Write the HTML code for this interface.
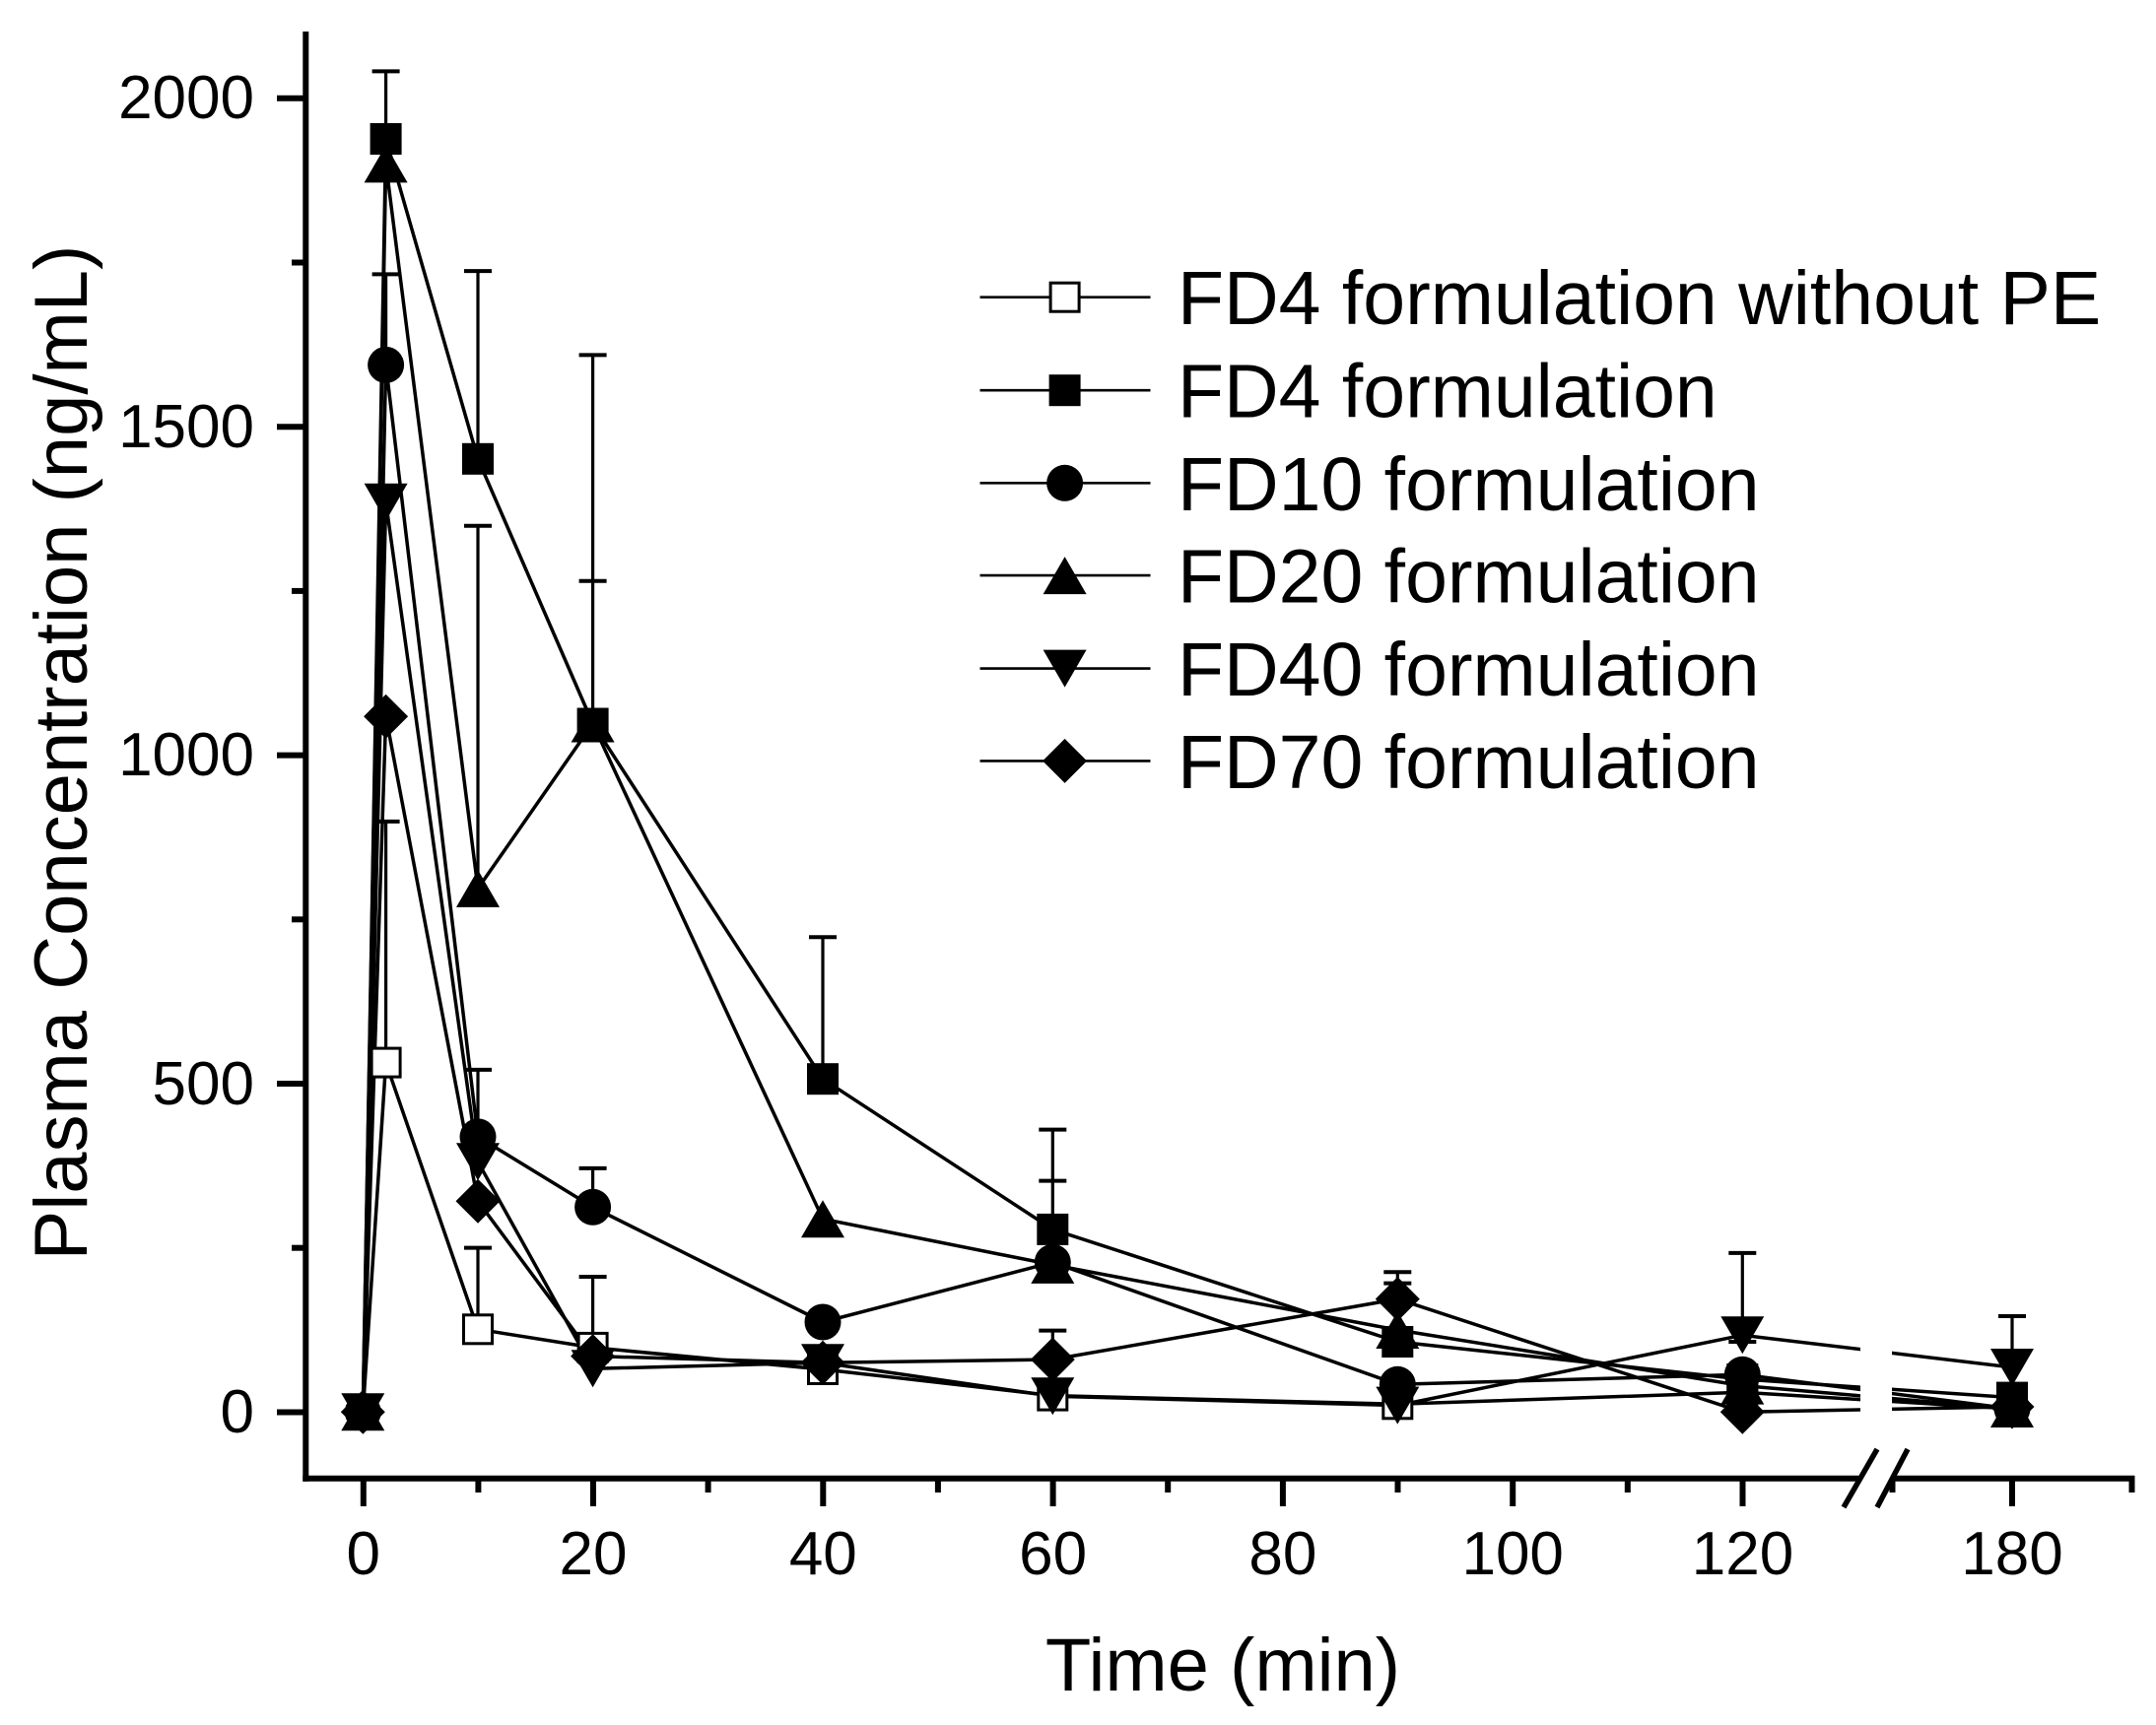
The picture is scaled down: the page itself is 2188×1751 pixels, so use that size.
<!DOCTYPE html>
<html>
<head>
<meta charset="utf-8">
<style>
html,body{margin:0;padding:0;background:#fff;}
svg{display:block;}
text{font-family:"Liberation Sans",Arial,sans-serif;fill:#000;}
</style>
</head>
<body>
<svg width="2188" height="1751" viewBox="0 0 2188 1751" xmlns="http://www.w3.org/2000/svg">
<rect x="0" y="0" width="2188" height="1751" fill="#fff"/>

<!-- data lines -->
<g fill="none" stroke="#000" stroke-width="3.5" stroke-linejoin="round">
<polyline points="368.3,1433.3 391.6,1078.6 485,1349.3 601.6,1367.9 835,1390 1068.3,1416.6 1418.3,1425.3 1768.3,1413.3 2042,1430"/>
<polyline points="368.3,1433.3 391.6,141 485,465.8 601.6,734.5 835,1095.2 1068.3,1247.9 1418.3,1362 1768.3,1400 2042,1418.6"/>
<polyline points="368.3,1433.3 391.6,370.4 485,1153.9 601.6,1225.3 835,1342 1068.3,1281.3 1418.3,1405.3 1768.3,1395.3 2042,1430"/>
<polyline points="368.3,1433.3 391.6,166.4 485,901.9 601.6,734.5 835,1237.3 1068.3,1283.9 1418.3,1350 1768.3,1406.6 2042,1430"/>
<polyline points="368.3,1433.3 391.6,509.8 485,1179.3 601.6,1389.3 835,1383.3 1068.3,1417.3 1418.3,1426.6 1768.3,1355.3 2042,1388"/>
<polyline points="368.3,1433.3 391.6,727.2 485,1219.3 601.6,1376.6 835,1383.3 1068.3,1380 1418.3,1318.6 1768.3,1433.3 2042,1428"/>
</g>

<!-- axis break gap in data -->
<rect x="1888" y="30" width="32" height="1466" fill="#fff"/>

<!-- error bars -->
<g stroke="#000" stroke-width="3.2" fill="none">
<line x1="391.6" y1="141" x2="391.6" y2="72.4"/><line x1="377.6" y1="72.4" x2="405.6" y2="72.4" stroke-width="4"/>
<line x1="391.6" y1="370.4" x2="391.6" y2="278.4"/><line x1="377.6" y1="278.4" x2="405.6" y2="278.4" stroke-width="4"/>
<line x1="391.6" y1="1078.6" x2="391.6" y2="833.9"/><line x1="377.6" y1="833.9" x2="405.6" y2="833.9" stroke-width="4"/>
<line x1="485" y1="465.8" x2="485" y2="275.1"/><line x1="471" y1="275.1" x2="499" y2="275.1" stroke-width="4"/>
<line x1="485" y1="901.9" x2="485" y2="533.8"/><line x1="471" y1="533.8" x2="499" y2="533.8" stroke-width="4"/>
<line x1="485" y1="1153.9" x2="485" y2="1085.9"/><line x1="471" y1="1085.9" x2="499" y2="1085.9" stroke-width="4"/>
<line x1="485" y1="1349.3" x2="485" y2="1266.6"/><line x1="471" y1="1266.6" x2="499" y2="1266.6" stroke-width="4"/>
<line x1="601.6" y1="734.5" x2="601.6" y2="360.4"/><line x1="587.6" y1="360.4" x2="615.6" y2="360.4" stroke-width="4"/>
<line x1="587.6" y1="589.8" x2="615.6" y2="589.8" stroke-width="4"/>
<line x1="601.6" y1="1225.3" x2="601.6" y2="1185.9"/><line x1="587.6" y1="1185.9" x2="615.6" y2="1185.9" stroke-width="4"/>
<line x1="601.6" y1="1376.6" x2="601.6" y2="1296"/><line x1="587.6" y1="1296" x2="615.6" y2="1296" stroke-width="4"/>
<line x1="835" y1="1095.2" x2="835" y2="951.2"/><line x1="821" y1="951.2" x2="849" y2="951.2" stroke-width="4"/>
<line x1="1068.3" y1="1247.9" x2="1068.3" y2="1146.6"/><line x1="1054.3" y1="1146.6" x2="1082.3" y2="1146.6" stroke-width="4"/>
<line x1="1054.3" y1="1198.6" x2="1082.3" y2="1198.6" stroke-width="4"/>
<line x1="1068.3" y1="1380" x2="1068.3" y2="1350.6"/><line x1="1054.3" y1="1350.6" x2="1082.3" y2="1350.6" stroke-width="4"/>
<line x1="1418.3" y1="1318.6" x2="1418.3" y2="1291.3"/><line x1="1404.3" y1="1291.3" x2="1432.3" y2="1291.3" stroke-width="4"/>
<line x1="1404.3" y1="1302.6" x2="1432.3" y2="1302.6" stroke-width="4"/>
<line x1="1768.3" y1="1355.3" x2="1768.3" y2="1271.9"/><line x1="1754.3" y1="1271.9" x2="1782.3" y2="1271.9" stroke-width="4"/>
<line x1="1754.3" y1="1362" x2="1782.3" y2="1362" stroke-width="4"/>
<line x1="2042" y1="1388" x2="2042" y2="1336"/><line x1="2028" y1="1336" x2="2056" y2="1336" stroke-width="4"/>
</g>

<!-- markers: S1 open squares -->
<g fill="#fff" stroke="#000" stroke-width="3">
<rect x="353.8" y="1418.8" width="29" height="29"/>
<rect x="377.1" y="1064.1" width="29" height="29"/>
<rect x="470.5" y="1334.8" width="29" height="29"/>
<rect x="587.1" y="1353.4" width="29" height="29"/>
<rect x="820.5" y="1375.5" width="29" height="29"/>
<rect x="1053.8" y="1402.1" width="29" height="29"/>
<rect x="1403.8" y="1410.8" width="29" height="29"/>
<rect x="1753.8" y="1398.8" width="29" height="29"/>
<rect x="2027.5" y="1415.5" width="29" height="29"/>
</g>
<!-- S2 filled squares -->
<g fill="#000">
<rect x="352.3" y="1417.3" width="32" height="32"/>
<rect x="375.6" y="125" width="32" height="32"/>
<rect x="469" y="449.8" width="32" height="32"/>
<rect x="585.6" y="718.5" width="32" height="32"/>
<rect x="819" y="1079.2" width="32" height="32"/>
<rect x="1052.3" y="1231.9" width="32" height="32"/>
<rect x="1402.3" y="1346" width="32" height="32"/>
<rect x="1752.3" y="1384" width="32" height="32"/>
<rect x="2026" y="1402.6" width="32" height="32"/>
</g>
<!-- S3 circles -->
<g fill="#000">
<circle cx="368.3" cy="1433.3" r="18.5"/>
<circle cx="391.6" cy="370.4" r="18.5"/>
<circle cx="485" cy="1153.9" r="18.5"/>
<circle cx="601.6" cy="1225.3" r="18.5"/>
<circle cx="835" cy="1342" r="18.5"/>
<circle cx="1068.3" cy="1281.3" r="18.5"/>
<circle cx="1418.3" cy="1405.3" r="18.5"/>
<circle cx="1768.3" cy="1395.3" r="18.5"/>
<circle cx="2042" cy="1430" r="18.5"/>
</g>
<!-- S4 up triangles -->
<g fill="#000">
<polygon points="346.3,1452.3 390.3,1452.3 368.3,1414.3"/>
<polygon points="369.6,185.4 413.6,185.4 391.6,147.4"/>
<polygon points="463,920.9 507,920.9 485,882.9"/>
<polygon points="579.6,753.5 623.6,753.5 601.6,715.5"/>
<polygon points="813,1256.3 857,1256.3 835,1218.3"/>
<polygon points="1046.3,1302.9 1090.3,1302.9 1068.3,1264.9"/>
<polygon points="1396.3,1369 1440.3,1369 1418.3,1331"/>
<polygon points="1746.3,1425.6 1790.3,1425.6 1768.3,1387.6"/>
<polygon points="2020,1449 2064,1449 2042,1411"/>
</g>
<!-- S5 down triangles -->
<g fill="#000">
<polygon points="346.3,1414.3 390.3,1414.3 368.3,1452.3"/>
<polygon points="369.6,490.8 413.6,490.8 391.6,528.8"/>
<polygon points="463,1160.3 507,1160.3 485,1198.3"/>
<polygon points="579.6,1370.3 623.6,1370.3 601.6,1408.3"/>
<polygon points="813,1364.3 857,1364.3 835,1402.3"/>
<polygon points="1046.3,1398.3 1090.3,1398.3 1068.3,1436.3"/>
<polygon points="1396.3,1407.6 1440.3,1407.6 1418.3,1445.6"/>
<polygon points="1746.3,1336.3 1790.3,1336.3 1768.3,1374.3"/>
<polygon points="2020,1369 2064,1369 2042,1407"/>
</g>
<!-- S6 diamonds -->
<g fill="#000">
<polygon points="368.3,1410.8 390.8,1433.3 368.3,1455.8 345.8,1433.3"/>
<polygon points="391.6,704.7 414.1,727.2 391.6,749.7 369.1,727.2"/>
<polygon points="485,1196.8 507.5,1219.3 485,1241.8 462.5,1219.3"/>
<polygon points="601.6,1354.1 624.1,1376.6 601.6,1399.1 579.1,1376.6"/>
<polygon points="835,1360.8 857.5,1383.3 835,1405.8 812.5,1383.3"/>
<polygon points="1068.3,1357.5 1090.8,1380 1068.3,1402.5 1045.8,1380"/>
<polygon points="1418.3,1296.1 1440.8,1318.6 1418.3,1341.1 1395.8,1318.6"/>
<polygon points="1768.3,1410.8 1790.8,1433.3 1768.3,1455.8 1745.8,1433.3"/>
<polygon points="2042,1405.5 2064.5,1428 2042,1450.5 2019.5,1428"/>
</g>

<!-- axes -->
<g stroke="#000" stroke-width="6" fill="none">
<line x1="310.3" y1="32" x2="310.3" y2="1503.7"/>
<line x1="307.3" y1="1500.7" x2="1886" y2="1500.7"/>
<line x1="1920" y1="1500.7" x2="2166" y2="1500.7"/>
<line x1="281" y1="1433.5" x2="310" y2="1433.5"/>
<line x1="281" y1="1100" x2="310" y2="1100"/>
<line x1="281" y1="766.6" x2="310" y2="766.6"/>
<line x1="281" y1="433.2" x2="310" y2="433.2"/>
<line x1="281" y1="99.8" x2="310" y2="99.8"/>
<line x1="296" y1="1266.7" x2="310" y2="1266.7"/>
<line x1="296" y1="933.3" x2="310" y2="933.3"/>
<line x1="296" y1="599.9" x2="310" y2="599.9"/>
<line x1="296" y1="266.5" x2="310" y2="266.5"/>
<line x1="368.8" y1="1500" x2="368.8" y2="1529"/>
<line x1="602" y1="1500" x2="602" y2="1529"/>
<line x1="835.3" y1="1500" x2="835.3" y2="1529"/>
<line x1="1068.6" y1="1500" x2="1068.6" y2="1529"/>
<line x1="1301.9" y1="1500" x2="1301.9" y2="1529"/>
<line x1="1535.2" y1="1500" x2="1535.2" y2="1529"/>
<line x1="1768.5" y1="1500" x2="1768.5" y2="1529"/>
<line x1="2042" y1="1500" x2="2042" y2="1529"/>
<line x1="485.4" y1="1500" x2="485.4" y2="1515"/>
<line x1="718.6" y1="1500" x2="718.6" y2="1515"/>
<line x1="951.9" y1="1500" x2="951.9" y2="1515"/>
<line x1="1185.2" y1="1500" x2="1185.2" y2="1515"/>
<line x1="1418.5" y1="1500" x2="1418.5" y2="1515"/>
<line x1="1651.8" y1="1500" x2="1651.8" y2="1515"/>
<line x1="1920.5" y1="1500" x2="1920.5" y2="1515"/>
<line x1="2163.5" y1="1498" x2="2163.5" y2="1515"/>
<line x1="1871" y1="1530" x2="1905" y2="1471" stroke-width="5.5"/>
<line x1="1905" y1="1530" x2="1936" y2="1471" stroke-width="5.5"/>
</g>

<!-- tick labels -->
<g font-size="62" text-anchor="end">
<text x="258" y="1454">0</text>
<text x="258" y="1121">500</text>
<text x="258" y="787">1000</text>
<text x="258" y="454">1500</text>
<text x="258" y="120">2000</text>
</g>
<g font-size="62" text-anchor="middle">
<text x="368.8" y="1598">0</text>
<text x="602" y="1598">20</text>
<text x="835.3" y="1598">40</text>
<text x="1068.6" y="1598">60</text>
<text x="1301.9" y="1598">80</text>
<text x="1535.2" y="1598">100</text>
<text x="1768.5" y="1598">120</text>
<text x="2042" y="1598">180</text>
</g>

<!-- axis titles -->
<text x="1241" y="1716" font-size="76" text-anchor="middle">Time (min)</text>
<text transform="translate(88,764) rotate(-90)" font-size="76" text-anchor="middle">Plasma Concentration (ng/mL)</text>

<!-- legend -->
<g stroke="#000" stroke-width="2.6">
<line x1="994.5" y1="301.7" x2="1167.5" y2="301.7"/>
<line x1="994.5" y1="396.2" x2="1167.5" y2="396.2"/>
<line x1="994.5" y1="490.3" x2="1167.5" y2="490.3"/>
<line x1="994.5" y1="584.1" x2="1167.5" y2="584.1"/>
<line x1="994.5" y1="678.6" x2="1167.5" y2="678.6"/>
<line x1="994.5" y1="772.4" x2="1167.5" y2="772.4"/>
</g>
<rect x="1066.1" y="287.2" width="29" height="29" fill="#fff" stroke="#000" stroke-width="3"/>
<rect x="1064.6" y="380.2" width="32" height="32" fill="#000"/>
<circle cx="1080.6" cy="490.3" r="18.5" fill="#000"/>
<polygon points="1058.6,603.1 1102.6,603.1 1080.6,565.1" fill="#000"/>
<polygon points="1058.6,659.6 1102.6,659.6 1080.6,697.6" fill="#000"/>
<polygon points="1080.6,749.9 1103.1,772.4 1080.6,794.9 1058.1,772.4" fill="#000"/>
<g font-size="77">
<text x="1195" y="329.2">FD4 formulation without PE</text>
<text x="1195" y="423.7">FD4 formulation</text>
<text x="1195" y="517.8">FD10 formulation</text>
<text x="1195" y="611.6">FD20 formulation</text>
<text x="1195" y="706.1">FD40 formulation</text>
<text x="1195" y="799.9">FD70 formulation</text>
</g>
</svg>
</body>
</html>
